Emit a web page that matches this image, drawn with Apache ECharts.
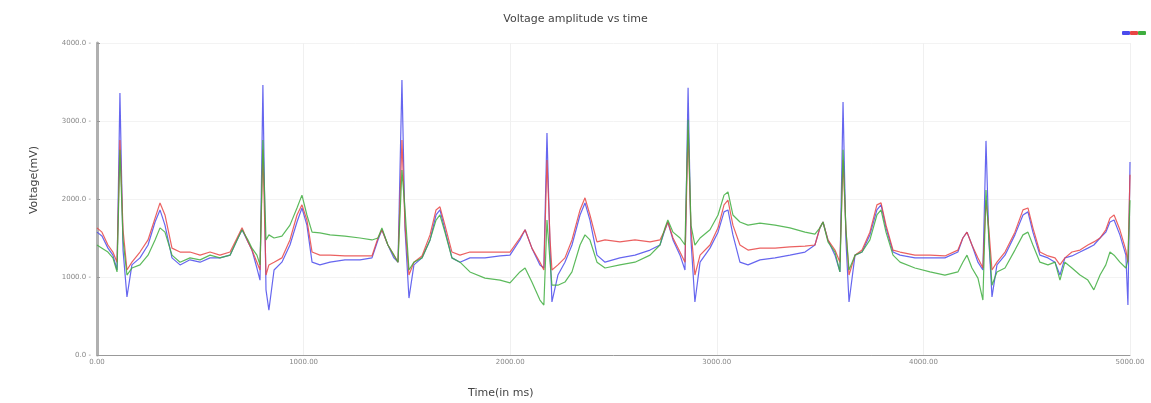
<!DOCTYPE html>
<html>
<head>
<meta charset="utf-8">
<script src="https://cdn.jsdelivr.net/npm/echarts@6/dist/echarts.min.js"></script>
<style>html,body{margin:0;padding:0;background:#fff}#c{width:1151px;height:403px}</style>
</head>
<body>
<div id="c"></div>
<script>
// time stamps (ms)
const timeMs = [0,24,53,77,97,111,126,145,169,208,247,281,305,329,363,402,450,499,547,595,644,678,702,731,750,774,789,803,818,832,857,895,934,968,992,1016,1041,1079,1128,1200,1273,1331,1360,1379,1408,1437,1457,1476,1491,1510,1534,1573,1612,1641,1660,1684,1718,1757,1805,1878,1951,1999,2047,2072,2105,2144,2163,2178,2193,2202,2231,2265,2299,2338,2362,2386,2420,2459,2531,2604,2677,2725,2749,2763,2788,2822,2846,2861,2875,2894,2919,2967,3006,3035,3054,3078,3112,3151,3209,3282,3354,3427,3475,3499,3514,3538,3572,3596,3611,3625,3640,3669,3703,3741,3775,3795,3819,3853,3887,3959,4032,4104,4167,4191,4211,4235,4264,4288,4303,4317,4332,4356,4395,4443,4482,4506,4530,4564,4603,4637,4661,4685,4719,4758,4796,4825,4855,4883,4903,4923,4951,4980,4990,5000];
const blueV = [1575,1525,1370,1280,1090,3360,1345,745,1155,1245,1410,1705,1860,1665,1245,1155,1220,1190,1245,1245,1280,1475,1605,1450,1345,1115,960,3460,835,575,1090,1190,1410,1705,1885,1665,1190,1155,1190,1220,1220,1245,1475,1605,1410,1245,1190,3525,1605,730,1155,1245,1475,1795,1860,1605,1245,1190,1245,1245,1270,1280,1475,1605,1370,1155,1115,2845,1345,680,1025,1190,1410,1795,1950,1730,1280,1190,1245,1280,1345,1410,1605,1705,1475,1280,1090,3425,1475,680,1190,1370,1575,1835,1860,1540,1190,1155,1220,1245,1280,1320,1410,1630,1705,1475,1280,1065,3245,1475,680,1280,1320,1540,1860,1925,1630,1320,1280,1245,1245,1245,1320,1500,1575,1410,1190,1090,2745,1475,745,1155,1280,1540,1795,1835,1575,1280,1245,1190,1025,1245,1270,1320,1370,1410,1500,1575,1705,1730,1540,1280,640,2475];
const redV = [1630,1575,1410,1320,1190,2755,1605,1090,1190,1320,1475,1755,1950,1795,1370,1320,1320,1280,1320,1280,1320,1500,1630,1450,1345,1190,1090,2630,1025,1155,1190,1245,1475,1795,1925,1730,1320,1280,1280,1270,1270,1270,1500,1605,1410,1280,1190,2755,1665,1025,1190,1270,1540,1860,1900,1665,1320,1280,1320,1320,1320,1320,1500,1605,1370,1190,1090,2500,1475,1090,1155,1245,1475,1860,2015,1795,1450,1475,1450,1475,1450,1475,1605,1705,1500,1320,1190,2885,1605,1025,1280,1410,1630,1925,1985,1665,1410,1345,1370,1370,1385,1395,1410,1630,1705,1475,1345,1190,2500,1605,1025,1280,1345,1575,1925,1950,1665,1345,1320,1280,1280,1270,1345,1500,1575,1410,1245,1115,1985,1605,1090,1190,1320,1575,1860,1885,1630,1320,1270,1245,1155,1245,1320,1345,1410,1450,1500,1605,1755,1795,1605,1345,1190,2310];
const greenV = [1410,1370,1320,1245,1065,2630,1475,1025,1115,1155,1280,1475,1630,1575,1280,1190,1245,1220,1280,1245,1280,1475,1605,1475,1370,1280,1155,2755,1475,1540,1500,1525,1665,1885,2050,1795,1575,1565,1540,1525,1500,1475,1500,1630,1410,1280,1190,2370,1860,1090,1190,1245,1475,1730,1795,1575,1245,1190,1065,985,960,925,1065,1115,935,705,640,1730,1190,895,895,935,1065,1410,1540,1475,1190,1115,1155,1190,1280,1410,1630,1730,1575,1500,1410,3015,1665,1410,1500,1605,1795,2050,2090,1795,1705,1665,1690,1665,1630,1575,1550,1630,1705,1450,1320,1065,2630,1605,1090,1280,1320,1475,1795,1860,1575,1280,1190,1115,1065,1025,1065,1190,1280,1115,985,705,2115,1475,895,1065,1115,1345,1540,1575,1410,1190,1155,1190,960,1190,1115,1025,960,835,1025,1155,1320,1280,1190,1115,1220,1985];
const yTicks = {min: 0, max: 4000, interval: 1000};
const xTicks = {min: 0, max: 5000, interval: 1000};

const pairs = arr => timeMs.map((t, i) => [t, arr[i]]);

const chart = echarts.init(document.getElementById('c'), null, {renderer: 'canvas'});
const labelStyle = {color: '#888', fontSize: 7, fontFamily: 'DejaVu Sans'};
chart.setOption({
  animation: false,
  backgroundColor: '#fff',
  title: {
    text: 'Voltage amplitude vs time',
    left: 'center', top: 9,
    textStyle: {fontSize: 11, fontWeight: 'normal', color: '#444', fontFamily: 'DejaVu Sans'}
  },
  legend: {
    right: 0, top: 26,
    itemWidth: 8, itemHeight: 4, itemGap: 0,
    icon: 'roundRect',
    formatter: () => '',
    textStyle: {fontSize: 1, padding: 0},
    data: ['Lead I', 'Lead II', 'Lead III']
  },
  grid: {left: 97, right: 21, top: 43, bottom: 48, containLabel: false},
  xAxis: {
    type: 'value',
    min: xTicks.min, max: xTicks.max, interval: xTicks.interval,
    axisLine: {lineStyle: {color: '#999', width: 1}},
    axisTick: {show: false},
    axisLabel: Object.assign({formatter: v => v.toFixed(2), margin: 4}, labelStyle),
    splitLine: {show: true, lineStyle: {color: '#f0f0f0', width: 1}}
  },
  yAxis: {
    type: 'value',
    min: yTicks.min, max: yTicks.max, interval: yTicks.interval,
    axisLine: {show: true, lineStyle: {color: '#b0b0b0', width: 3}},
    axisTick: {show: true, length: 3, inside: true, lineStyle: {color: '#999'}},
    axisLabel: Object.assign({formatter: v => v.toFixed(1) + ' -', margin: 6}, labelStyle),
    splitLine: {show: true, lineStyle: {color: '#f3f3f3', width: 1}}
  },
  graphic: [
    {type: 'text', left: 29, top: 146, rotation: Math.PI / 2,
     style: {text: 'Voltage(mV)', fontSize: 11, fill: '#444', fontFamily: 'DejaVu Sans'}},
    {type: 'text', left: 468, top: 388,
     style: {text: 'Time(in ms)', fontSize: 11, fill: '#444', fontFamily: 'DejaVu Sans'}}
  ],
  series: [
    {name: 'Lead I', type: 'line', data: pairs(blueV), showSymbol: false, color: '#4b4bec',
     lineStyle: {width: 1.2, opacity: 0.85}},
    {name: 'Lead II', type: 'line', data: pairs(redV), showSymbol: false, color: '#e84545',
     lineStyle: {width: 1.2, opacity: 0.85}},
    {name: 'Lead III', type: 'line', data: pairs(greenV), showSymbol: false, color: '#3fae3f',
     lineStyle: {width: 1.2, opacity: 0.85}}
  ]
});
</script>
</body>
</html>
